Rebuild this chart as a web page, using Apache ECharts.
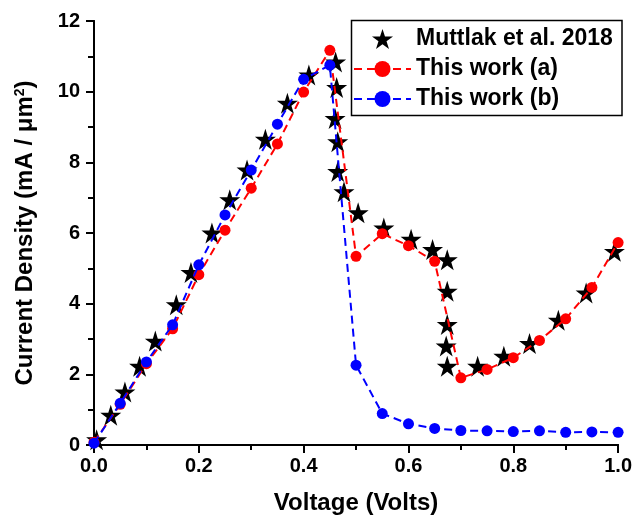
<!DOCTYPE html>
<html>
<head>
<meta charset="utf-8">
<script src="https://cdn.jsdelivr.net/npm/echarts@6/dist/echarts.min.js"></script>
<style>
  html, body { margin: 0; padding: 0; background: #fff; }
  #chart { width: 635px; height: 520px; }
</style>
</head>
<body>
<div id="chart"></div>
<script>
// Voltage sweep used for both simulations (Volts)
const voltageSim = [0, 0.05, 0.10, 0.15, 0.20, 0.25, 0.30, 0.35, 0.40, 0.45, 0.50,
                    0.55, 0.60, 0.65, 0.70, 0.75, 0.80, 0.85, 0.90, 0.95, 1.00];
// Current density, this work (a) (mA / um^2)
const currentA = [0.08, 1.15, 2.30, 3.29, 4.82, 6.08, 7.27, 8.52, 9.99, 11.17, 5.34,
                  5.98, 5.64, 5.20, 1.90, 2.14, 2.47, 2.96, 3.57, 4.46, 5.73];
// Current density, this work (b) (mA / um^2)
const currentB = [0.05, 1.18, 2.35, 3.40, 5.10, 6.51, 7.78, 9.08, 10.35, 10.75, 2.26,
                  0.89, 0.60, 0.47, 0.41, 0.40, 0.38, 0.40, 0.36, 0.37, 0.36];
// Reference measurement, Muttlak et al. 2018
const muttlakV = [0.005, 0.032, 0.059, 0.087, 0.117, 0.157, 0.185, 0.225, 0.259, 0.292,
                  0.327, 0.369, 0.410, 0.461, 0.463, 0.460, 0.465, 0.465, 0.477, 0.504,
                  0.553, 0.605, 0.646, 0.674, 0.674, 0.674, 0.672, 0.674, 0.732, 0.782,
                  0.831, 0.886, 0.939, 0.993];
const muttlakJ = [0.15, 0.84, 1.50, 2.23, 2.94, 3.97, 4.88, 6.00, 6.94, 7.78,
                  8.65, 9.67, 10.47, 10.84, 10.12, 9.24, 8.58, 7.74, 7.17, 6.57,
                  6.14, 5.82, 5.53, 5.24, 4.35, 3.41, 2.80, 2.23, 2.23, 2.51,
                  2.87, 3.53, 4.30, 5.48];
const seriesNames = ['Muttlak et al. 2018', 'This work (a)', 'This work (b)'];

const pair = (xs, ys) => xs.map((x, i) => [x, ys[i]]);
const STAR = 'path://M50,0 L61.2,34.5 L97.6,34.5 L68.2,55.9 L79.4,90.5 L50,69.1 L20.6,90.5 L31.8,55.9 L2.4,34.5 L38.8,34.5 Z';
const FONT = '"Liberation Sans", Arial, sans-serif';

const chart = echarts.init(document.getElementById('chart'), null, { renderer: 'canvas' });

const axisLine = { show: true, lineStyle: { color: '#000', width: 2 } };

chart.setOption({
  animation: false,
  backgroundColor: '#fff',
  grid: { left: 94, right: 13, top: 21, bottom: 74, containLabel: false },
  xAxis: [
    {
      type: 'value', min: 0, max: 1, interval: 0.2, position: 'bottom',
      name: 'Voltage (Volts)', nameLocation: 'middle', nameGap: 46,
      nameTextStyle: { fontFamily: FONT, fontWeight: 'bold', fontSize: 24, color: '#000' },
      axisLine: axisLine,
      axisTick: { show: true, inside: false, length: 8, lineStyle: { width: 2, color: '#000' } },
      minorTick: { show: true, splitNumber: 2, length: 5, lineStyle: { width: 2, color: '#000' } },
      splitLine: { show: false },
      axisLabel: { margin: 11, fontFamily: FONT, fontWeight: 'bold', fontSize: 20, color: '#000',
                   formatter: v => v.toFixed(1) }
    },
    {
      type: 'value', min: 0, max: 1, interval: 0.2, position: 'top',
      axisLine: axisLine,
      axisTick: { show: true, inside: true, length: 5, lineStyle: { width: 2, color: '#000' } },
      minorTick: { show: true, splitNumber: 2, length: 4, lineStyle: { width: 2, color: '#000' } },
      splitLine: { show: false }, axisLabel: { show: false }
    }
  ],
  yAxis: [
    {
      type: 'value', min: 0, max: 12, interval: 2, position: 'left',
      name: '{t|Current Density (mA / \u03bcm}{s|2}{t|)}',
      nameLocation: 'middle', nameGap: 57, nameRotate: 90,
      nameTextStyle: {
        fontFamily: FONT, fontWeight: 'bold', fontSize: 24, color: '#000',
        rich: {
          t: { fontFamily: FONT, fontWeight: 'bold', fontSize: 24, color: '#000' },
          s: { fontFamily: FONT, fontWeight: 'bold', fontSize: 14, color: '#000', verticalAlign: 'top', padding: [0, 0, 10, 0] }
        }
      },
      axisLine: axisLine,
      axisTick: { show: true, inside: false, length: 8, lineStyle: { width: 2, color: '#000' } },
      minorTick: { show: true, splitNumber: 2, length: 5, lineStyle: { width: 2, color: '#000' } },
      splitLine: { show: false },
      axisLabel: { margin: 14, fontFamily: FONT, fontWeight: 'bold', fontSize: 20, color: '#000' }
    },
    {
      type: 'value', min: 0, max: 12, interval: 2, position: 'right',
      axisLine: axisLine,
      axisTick: { show: true, inside: true, length: 7, lineStyle: { width: 2, color: '#000' } },
      minorTick: { show: true, splitNumber: 2, length: 6, lineStyle: { width: 2, color: '#000' } },
      splitLine: { show: false }, axisLabel: { show: false }
    }
  ],
  legend: {
    show: true, orient: 'vertical', left: 353, top: 27,
    padding: 0, itemGap: 6, itemWidth: 57, itemHeight: 20,
    data: seriesNames,
    textStyle: { fontFamily: FONT, fontWeight: 'bold', fontSize: 23, color: '#000', lineHeight: 24 }
  },
  graphic: [
    { type: 'rect', z: 100, silent: true,
      shape: { x: 351.5, y: 20.5, width: 270.5, height: 95 },
      style: { fill: 'none', stroke: '#000', lineWidth: 1.5 } }
  ],
  series: [
    {
      name: seriesNames[0], type: 'scatter', xAxisIndex: 0, yAxisIndex: 0,
      symbol: STAR, symbolSize: 21,
      itemStyle: { color: '#000', opacity: 1 },
      data: pair(muttlakV, muttlakJ), z: 2
    },
    {
      name: seriesNames[1], type: 'line', xAxisIndex: 0, yAxisIndex: 0,
      symbol: 'circle', symbolSize: 11, showAllSymbol: true,
      itemStyle: { color: '#ff0000' },
      lineStyle: { color: '#ff0000', width: 2, type: [8, 5] },
      data: pair(voltageSim, currentA), z: 3
    },
    {
      name: seriesNames[2], type: 'line', xAxisIndex: 0, yAxisIndex: 0,
      symbol: 'circle', symbolSize: 11, showAllSymbol: true,
      itemStyle: { color: '#0000ff' },
      lineStyle: { color: '#0000ff', width: 2, type: [8, 5] },
      data: pair(voltageSim, currentB), z: 4
    }
  ]
});
</script>
</body>
</html>
